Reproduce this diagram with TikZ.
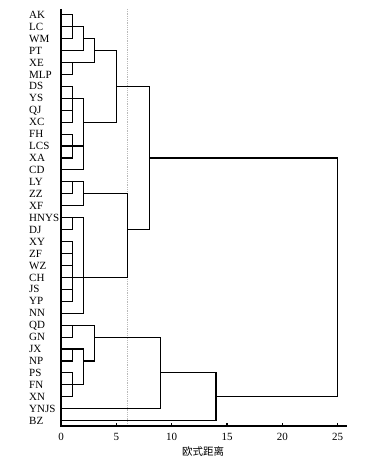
\documentclass[tikz,border=0pt]{standalone}
\usepackage{fontspec}
\setmainfont{Liberation Serif}
\newfontfamily\cjk{Noto Sans CJK SC}
\begin{document}
\begin{tikzpicture}[x=1pt,y=-1pt,
  br/.style={line width=1.1pt, line cap=rect, black},
  ax/.style={line width=1.1pt, black},
  leaf/.style={anchor=west, inner sep=0pt, text height=7.3pt, text depth=0pt, font=\fontsize{11}{13}\selectfont},
  ticklab/.style={inner sep=0pt, font=\fontsize{11}{13}\selectfont},
  cut/.style={gray!55, line width=0.8pt, densely dotted}]
\useasboundingbox (0,0) rectangle (380,460);
% cut line at distance 6
\draw[cut] (127.4,9) -- (127.4,426);
% axes
\draw[ax] (61,9) -- (61,426) -- (346.7,426);
\foreach \k/\t in {0/0,1/5,2/10,3/15,4/20,5/25}{
  \draw[ax] ({61+55.34*\k},426) -- ++(0,-3.5);
  \node[ticklab] (tick\k) at ({61+55.34*\k},437) {\t};
}
\node[inner sep=0pt, font=\fontsize{10.5}{12}\selectfont\cjk] (xtitle) at (203,451) {欧式距离};
\begin{scope}[shift={(61pt,-14.7pt)}, x=11.07pt, y=-11.94pt]
  % leaf labels
  \foreach \n [count=\i from 0] in {AK,LC,WM,PT,XE,MLP,DS,YS,QJ,XC,FH,LCS,XA,CD,LY,ZZ,XF,HNYS,DJ,XY,ZF,WZ,CH,JS,YP,NN,QD,GN,JX,NP,PS,FN,XN,YNJS,BZ}
    \node[leaf] (leaf-\n) at (-2.89,\i) {\n};
  % horizontal lines from leaves
  \foreach \d [count=\i from 0] in {1,2,1,2,3,1,1,2,1,1,1,2,1,2,2,1,2,2,1,1,1,1,6,1,1,2,3,1,2,1,1,2,1,9,14}
    \draw[br] (0,\i) -- (\d,\i);
  % cluster horizontal lines
  \foreach \r/\a/\b in {2/2/3,3/3/5,6/5/8,9/2/5,15/2/6,18/6/8,12/8/25,29/2/3,27/3/9,30/9/14,32/14/25}
    \draw[br] (\a,\r) -- (\b,\r);
  % vertical merge lines
  \foreach \x/\a/\b in {1/0/2,2/1/3,1/4/5,3/2/4,1/6/9,1/10/12,2/7/13,5/3/9,1/14/15,2/14/16,1/17/18,1/19/24,2/17/25,6/15/22,8/6/18,1/26/27,1/28/29,1/30/32,2/28/31,3/26/29,9/27/33,14/30/34,25/12/32}
    \draw[br] (\x,\a) -- (\x,\b);
\end{scope}
\end{tikzpicture}
\end{document}
